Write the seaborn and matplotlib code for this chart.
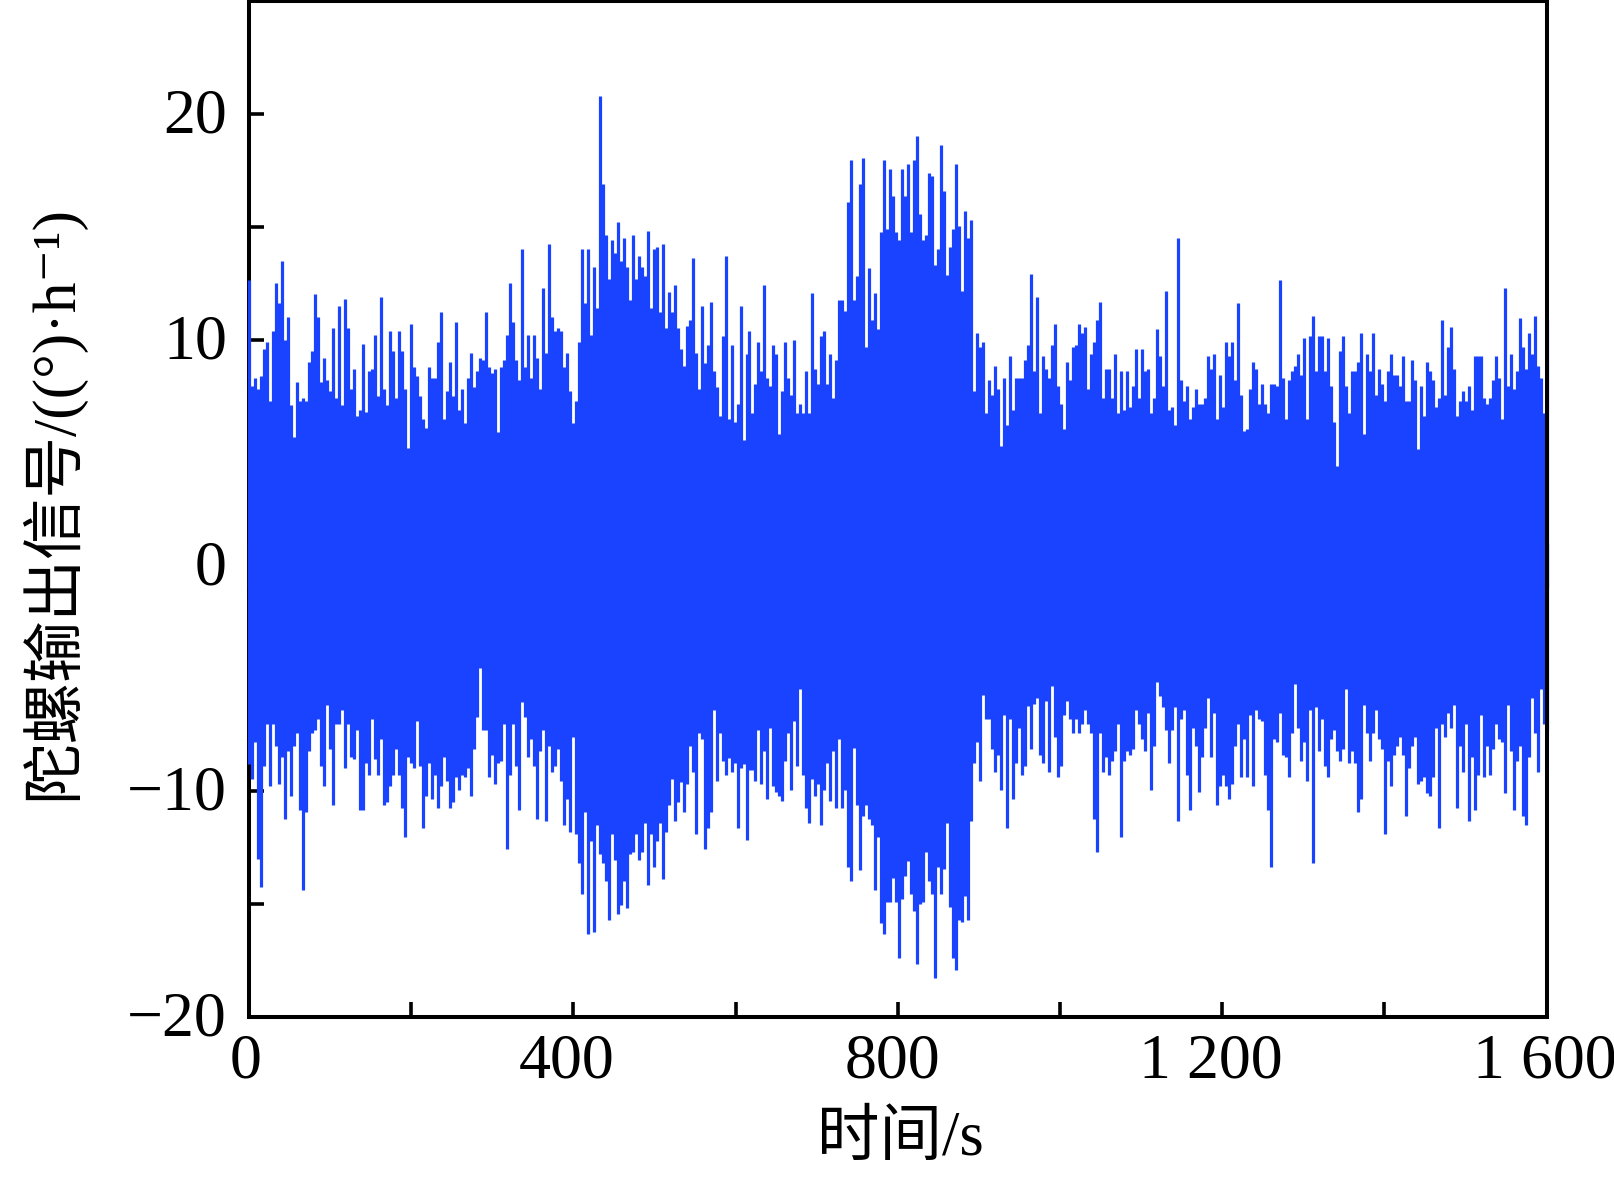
import numpy as np
import pandas as pd
import matplotlib
matplotlib.use("Agg")
import matplotlib.pyplot as plt
from matplotlib.ticker import FixedLocator, FixedFormatter
from matplotlib.transforms import ScaledTranslation
import seaborn as sns

upper_0_530 = [12.65,7.94,8.3,7.8,8.4,9.6,9.9,7.3,10.4,12.5,11.6,13.5,10.0,11.0,7.1,5.7,8.1,7.3,7.4,7.3,9.0,9.5,12.0,11.0,8.1,9.2,8.2,7.7,10.5,7.4,11.5,7.1,11.8,10.5,7.8,8.7,6.6,6.9,9.8,6.8,8.6,8.7,10.2,7.5,11.9,7.8,7.1,10.4,9.5,7.4,10.4,9.5,7.8,5.2,10.7,8.8,8.4,7.5,6.5,6.1,8.8,8.3,8.3,9.9,11.2,6.5,7.7,9.0,7.5,10.8,6.9,7.8,6.3,8.3,9.4,7.9,8.6,9.2,9.1,11.2,8.8,8.5,8.7,5.9,8.8,9.1,10.2,12.5,10.8,9.1,8.2,14.0,8.8,10.2,8.3,10.2,9.2,7.8,12.3,9.4,14.25,11.0,10.4,10.5,10.4,8.8,9.4,7.7,6.3,7.3,9.9,14.0,11.6,14.0,10.2,13.2,11.4,20.8,16.9,14.65,12.7,14.4,13.85,15.2,13.5,14.5,13.2,11.75,14.65,12.7,13.7,13.2,12.8,14.8,11.4,14.0,14.1,11.2,14.25,10.5,12.1,11.2,12.4,10.5,9.6]
upper_530_1065 = [8.84,10.6,10.85,13.6,9.4,7.8,11.5,8.95,9.75,11.65,8.6,7.9,6.6,10.15,13.7,6.5,9.75,6.35,7.15,11.5,5.55,9.35,10.4,6.75,8.05,9.9,8.6,12.4,8.3,7.95,9.75,9.35,5.8,7.7,9.9,8.3,7.55,10.0,6.75,7.15,6.75,8.6,6.75,12.05,8.7,8.05,10.15,10.4,8.05,9.35,7.4,9.1,11.75,11.75,11.25,16.1,17.95,11.75,12.8,16.9,18.05,9.65,13.15,10.85,12.05,10.45,14.75,17.95,14.9,17.55,16.35,14.75,14.4,17.55,16.35,17.8,14.75,17.95,19.0,15.55,14.4,14.65,17.4,17.25,13.3,14.0,18.6,16.6,12.85,14.1,14.9,17.8,15.05,12.15,15.7,14.5,15.3,7.7,10.3,9.65,9.9,6.75,8.2,7.55,8.85,7.8,5.3,8.3,6.2,9.25,6.9,8.3,8.3,8.3,9.1,9.75,12.9,8.6,11.9,6.75,9.25,8.7,8.3,9.75,10.7,7.95,7.15,6.05,9.0,8.2,9.65,9.75,10.7,10.3,10.55,7.8,9.35,9.9,10.85,11.65,7.4,8.7,8.7]
upper_1065_1600 = [7.4,9.35,6.75,8.6,6.9,8.6,7.0,7.95,9.6,7.4,9.6,8.6,8.7,6.75,7.4,10.45,9.25,7.95,12.15,6.9,7.0,6.2,14.5,8.2,7.3,7.95,6.5,7.0,7.8,7.15,7.15,7.4,9.25,8.7,9.35,6.5,8.45,7.0,9.9,9.25,9.9,8.2,11.6,7.55,5.95,6.05,7.8,9.0,8.7,7.15,8.05,7.15,6.75,8.05,8.05,7.95,12.65,8.3,6.5,8.2,8.6,8.85,9.35,8.45,10.05,6.5,10.15,11.05,8.6,10.15,10.15,8.6,10.05,7.95,6.35,4.4,9.5,10.15,7.95,6.75,8.6,8.6,9.0,10.3,5.8,9.35,8.6,10.3,7.55,8.7,8.05,7.3,8.6,9.35,8.45,8.45,7.95,9.25,7.3,7.3,9.1,8.2,5.15,7.95,6.6,9.0,8.6,8.2,7.0,7.4,10.85,7.55,9.65,10.55,8.7,6.6,7.3,7.7,7.3,7.95,6.9,9.25,9.25,9.25,7.4,7.15,7.4,8.2,9.25,8.3,6.5,12.3,7.95,9.35,7.8,8.6,10.95,9.65,8.7,10.3,9.35,11.05,8.85,8.3,6.75,10.85]

lower_0_530 = [-8.8,-9.45,-7.85,-13.0,-14.25,-8.9,-7.05,-9.8,-7.05,-8.0,-9.7,-8.5,-11.25,-8.25,-10.2,-8.0,-7.45,-10.85,-14.4,-10.95,-8.25,-7.45,-7.3,-6.8,-8.9,-9.8,-6.2,-8.15,-10.6,-7.05,-7.05,-6.4,-9.0,-7.05,-8.5,-8.6,-7.3,-10.85,-10.85,-8.75,-9.3,-6.8,-8.6,-9.3,-7.7,-10.6,-10.5,-9.8,-9.3,-8.15,-9.3,-10.75,-12.05,-8.5,-8.75,-9.0,-6.9,-8.9,-11.65,-10.2,-8.75,-10.35,-9.3,-10.75,-9.8,-8.5,-9.55,-10.75,-10.5,-9.4,-9.95,-9.3,-9.4,-9.0,-10.2,-8.15,-6.7,-4.55,-7.3,-7.3,-9.4,-8.4,-9.7,-8.75,-8.65,-7.05,-12.55,-9.3,-7.05,-8.9,-10.85,-6.05,-6.7,-8.5,-7.7,-8.9,-11.25,-8.25,-7.3,-11.35,-8.0,-9.15,-8.9,-8.15,-9.55,-11.5,-10.35,-11.8,-7.6,-11.9,-13.2,-14.55,-10.95,-16.35,-12.2,-16.25,-11.5,-12.8,-13.2,-14.0,-15.7,-11.9,-13.05,-15.45,-15.05,-14.0,-15.2,-12.8,-12.7,-11.9,-13.05,-12.7,-11.4,-14.15,-11.9,-13.35,-12.2,-11.4,-13.9,-11.8,-10.6,-9.45,-11.35,-10.5,-9.6]
lower_530_1065 = [-10.95,-9.7,-8.0,-9.15,-11.9,-7.45,-7.7,-12.55,-11.65,-10.95,-6.4,-9.55,-7.45,-8.65,-9.3,-8.55,-9.15,-8.75,-11.65,-9.0,-8.8,-12.15,-9.05,-9.05,-9.55,-7.3,-9.7,-8.25,-10.35,-7.2,-9.8,-10.05,-10.2,-10.45,-8.65,-7.45,-9.95,-6.9,-8.9,-5.5,-9.3,-10.75,-11.4,-9.45,-10.2,-9.7,-11.5,-9.95,-8.75,-10.45,-8.25,-10.75,-7.7,-10.75,-9.95,-13.35,-14.0,-8.1,-10.6,-13.5,-11.1,-10.6,-11.25,-11.5,-14.4,-12.05,-15.85,-16.35,-14.9,-14.9,-13.85,-14.9,-17.4,-14.8,-13.75,-13.1,-14.55,-15.3,-17.65,-15.0,-14.9,-12.7,-14.0,-14.55,-18.3,-13.35,-14.55,-13.45,-11.4,-15.15,-17.4,-17.95,-15.7,-15.8,-14.65,-15.7,-11.35,-8.75,-7.85,-9.55,-5.75,-6.8,-6.8,-8.15,-9.15,-8.4,-9.95,-6.65,-11.65,-6.8,-10.35,-8.75,-7.2,-9.3,-8.9,-6.25,-8.15,-6.15,-5.9,-8.4,-8.75,-6.0,-9.15,-5.35,-7.6,-9.4,-8.9,-6.65,-6.0,-6.8,-7.45,-6.8,-7.45,-7.05,-6.4,-7.05,-7.45,-11.25,-12.7,-7.45,-9.15,-8.5,-9.3]
lower_1065_1600 = [-8.65,-8.25,-7.05,-12.05,-8.65,-8.25,-8.4,-8.15,-6.4,-7.05,-7.7,-8.25,-6.55,-9.95,-8.0,-5.15,-5.8,-6.3,-7.3,-8.75,-7.3,-6.3,-11.35,-6.8,-6.4,-9.3,-10.85,-7.2,-8.0,-10.05,-8.5,-7.2,-5.9,-8.5,-6.55,-10.6,-9.8,-9.3,-9.8,-10.35,-9.7,-8.0,-7.05,-9.4,-7.7,-9.4,-6.65,-9.8,-6.4,-6.8,-6.9,-9.3,-10.85,-13.35,-7.7,-7.85,-6.55,-8.4,-8.5,-9.4,-7.45,-5.25,-7.2,-8.65,-7.85,-9.55,-6.4,-13.2,-6.3,-8.25,-6.8,-8.9,-9.4,-7.7,-7.3,-8.25,-8.65,-8.15,-5.5,-8.75,-8.25,-8.75,-10.95,-10.35,-6.2,-7.45,-8.65,-7.45,-6.4,-7.7,-8.15,-11.9,-8.65,-9.8,-8.4,-8.0,-7.6,-8.4,-11.1,-9.0,-8.0,-7.6,-9.7,-9.55,-9.4,-10.1,-10.2,-9.4,-7.2,-11.65,-7.05,-7.6,-6.55,-7.2,-6.2,-10.75,-8.0,-9.15,-7.05,-11.35,-8.5,-10.85,-9.3,-6.65,-9.4,-8.0,-9.3,-8.15,-7.05,-7.7,-7.85,-10.1,-6.2,-8.25,-10.85,-8.65,-8.0,-11.1,-11.5,-8.5,-5.9,-7.45,-9.15,-5.5,-7.05,-7.3]

x_major = [0, 400, 800, 1200, 1600]
x_minor = [200, 600, 1000, 1400]
x_labels = ["0", "400", "800", "1 200", "1 600"]
y_major = [-20, -10, 0, 10, 20]
y_minor = [-15, -5, 5, 15]
y_labels = ["\u221220", "\u221210", "0", "10", "20"]
x_title = "时间/s"
y_title = "陀螺输出信号/((°)·h⁻¹)"
line_color = "#1A43FF"
x_label_nudge_px = [-3, -7, -5, -11, -2]

sns.set_theme(style="white")
FONT = ["Liberation Serif", "Noto Sans CJK SC", "DejaVu Sans"]
plt.rcParams["font.family"] = FONT
plt.rcParams["axes.unicode_minus"] = False

upper = upper_0_530 + upper_530_1065 + upper_1065_1600
lower = lower_0_530 + lower_530_1065 + lower_1065_1600


def columns(values, start, base):
    times = np.linspace(0, 1600, len(values))
    rows = []
    for i, (t, v) in enumerate(zip(times, values)):
        rows.append((start + i, t, base))
        rows.append((start + i, t, v))
    return rows


table = pd.DataFrame(columns(upper, 0, -1.0) + columns(lower, len(upper), 1.0),
                     columns=["col", "time", "signal"])

fig = plt.figure(figsize=(16.15, 11.78), dpi=100, facecolor="white")
W, H = 1615.0, 1178.0
ax = fig.add_axes([249 / W, (H - 1016.7) / H, (1546.7 - 249) / W, (1016.7 - 1) / H])

sns.lineplot(data=table, x="time", y="signal", units="col", estimator=None,
             sort=False, color=line_color, linewidth=2.3, solid_capstyle="butt",
             errorbar=None, legend=False, clip_on=False, zorder=3, ax=ax)

ax.set_xlim(0, 1600)
ax.set_ylim(-20, 25)
ax.xaxis.set_major_locator(FixedLocator(x_major))
ax.xaxis.set_major_formatter(FixedFormatter(x_labels))
ax.xaxis.set_minor_locator(FixedLocator(x_minor))
ax.yaxis.set_major_locator(FixedLocator(y_major))
ax.yaxis.set_major_formatter(FixedFormatter(y_labels))
ax.yaxis.set_minor_locator(FixedLocator(y_minor))

ax.tick_params(axis="both", which="both", direction="in", length=10.5, width=2.6,
               color="black", top=False, right=False, bottom=True, left=True)
ax.tick_params(axis="x", which="major", labelsize=46, pad=12, labelcolor="black")
ax.tick_params(axis="y", which="major", labelsize=46, pad=16, labelcolor="black")

for name, s in ax.spines.items():
    s.set_visible(True)
    s.set_color("black")
    s.set_linewidth(2.9)
    s.set_zorder(1 if name == "left" else 5)

px = 1.0 / fig.dpi
for lab, dx in zip(ax.get_xticklabels(), x_label_nudge_px):
    lab.set_transform(lab.get_transform() + ScaledTranslation(dx * 1.03 * px, 0, fig.dpi_scale_trans))
for lab in ax.get_yticklabels():
    lab.set_transform(lab.get_transform() + ScaledTranslation(0, 3 * px, fig.dpi_scale_trans))

ax.set_xlabel("")
ax.set_ylabel("")
fig.text(900 / W, 1 - 1140 / H, x_title, fontsize=45, ha="center", va="center",
         family=FONT, color="black")
fig.text(52 / W, 1 - 502 / H, y_title, fontsize=44.3, ha="center", va="center",
         rotation=90, family=FONT, color="black")

fig.savefig("out.png", dpi=100, facecolor="white")
